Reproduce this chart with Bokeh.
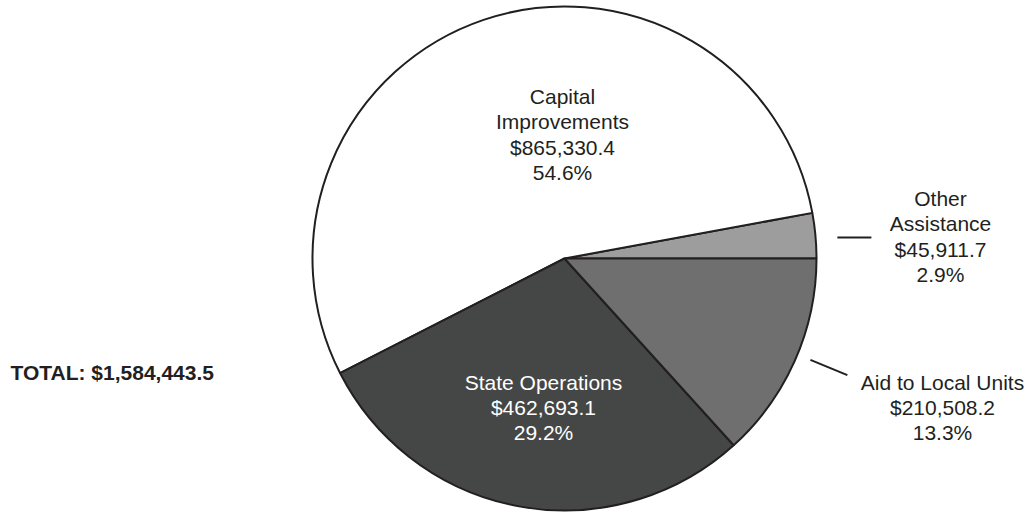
import math
from bokeh.plotting import figure
from bokeh.models import Range1d, ColumnDataSource
from bokeh.core.properties import value
from bokeh.embed import file_html
from bokeh.resources import INLINE

# ---- data ----
categories = ["Other Assistance", "Capital Improvements", "State Operations", "Aid to Local Units"]
label_names = ["Other\nAssistance", "Capital\nImprovements", "State Operations", "Aid to Local Units"]
amounts = [45911.7, 865330.4, 462693.1, 210508.2]
slice_colors = ["#9d9d9d", "#ffffff", "#454746", "#6f6f6f"]
label_colors = ["#231f20", "#231f20", "#ffffff", "#231f20"]
total_label = "TOTAL: $1,584,443.5"

# ---- layout (picture pixel coordinates, y measured downward) ----
W, H = 1030, 513
CX, CY_PAGE = 564, 258
R = 252
# label centres (picture coords)
label_pos = [(940, 236), (562, 134), (543, 407), (942, 407)]

def fy(page_y):
    return H - page_y

CY = fy(CY_PAGE)

total = sum(amounts)
starts, ends, mids = [], [], []
acc = 0.0
for a in amounts:
    s = acc / total * 2 * math.pi
    acc += a
    e = acc / total * 2 * math.pi
    starts.append(s)
    ends.append(e)
    mids.append((s + e) / 2)

p = figure(width=W, height=H, output_backend="svg", toolbar_location=None,
           x_range=Range1d(0, W), y_range=Range1d(0, H),
           min_border=0, outline_line_color=None, background_fill_color="white")
p.axis.visible = False
p.grid.visible = False

src = ColumnDataSource(dict(start=starts, end=ends, color=slice_colors, cat=categories))
p.wedge(x=CX, y=CY, radius=R, start_angle="start", end_angle="end",
        direction="anticlock", fill_color="color", line_color="#231f20",
        line_width=2, source=src)

# labels
texts = [f"{n}\n${a:,.1f}\n{a / total * 100:.1f}%" for n, a in zip(label_names, amounts)]
lsrc = ColumnDataSource(dict(x=[lp[0] for lp in label_pos], y=[fy(lp[1]) for lp in label_pos],
                             text=texts, color=label_colors))
p.text(x="x", y="y", text="text", text_color="color", source=lsrc,
       text_font=value("Liberation Sans"), text_font_size="21px",
       text_align="center", text_baseline="middle", text_line_height=1.1)

# leader lines
# Other Assistance: horizontal leader to the right of its slice
m0 = mids[0]
x0 = CX + (R + 22) * math.cos(m0)
y0 = CY + 21
p.line([x0, x0 + 34], [y0, y0], line_color="#231f20", line_width=2)
# Aid to Local Units: radial leader
m3 = mids[3] + math.radians(1.5)
p.line([CX + (R + 14) * math.cos(m3), CX + (R + 54) * math.cos(m3)],
       [CY + (R + 14) * math.sin(m3), CY + (R + 54) * math.sin(m3)],
       line_color="#231f20", line_width=2)

# total
p.text(x=[10], y=[fy(372)], text=[total_label], text_color="#231f20",
       text_font=value("Liberation Sans"), text_font_size="21px",
       text_font_style="bold", text_align="left", text_baseline="middle")

open("out.html", "w").write(file_html(p, INLINE))
